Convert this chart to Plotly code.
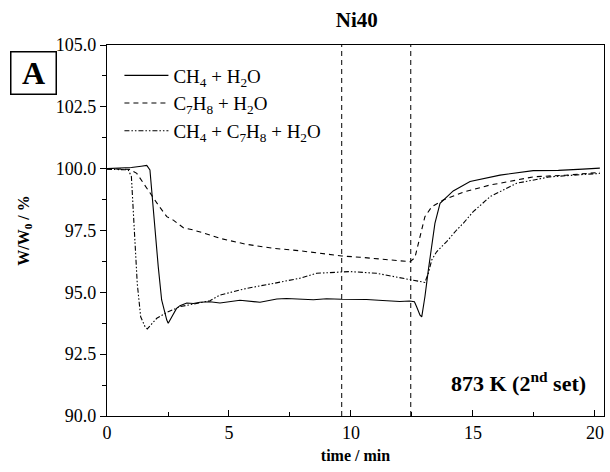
import plotly.graph_objects as go

# ---- data ----
t_ch4 = [0, 0.5, 1.0, 1.4, 1.63, 1.76, 1.83, 1.97, 2.1, 2.24, 2.35, 2.45, 2.51, 2.6, 2.72,
         2.85, 2.99, 3.27, 3.54, 3.81, 4.22, 4.63, 5.45, 6.27, 6.96, 7.36, 8.46, 9.0, 9.62,
         10.64, 11.3, 12.0, 12.4, 12.6, 12.69, 12.83, 12.9, 13.03, 13.17, 13.31, 13.44,
         13.65, 13.92, 14.19, 14.88, 15.7, 16.11, 17.47, 18.5, 19.5, 20.2]
w_ch4 = [100.0, 100.02, 100.05, 100.1, 100.13, 99.95, 99.14, 97.39, 96.04, 94.69, 94.2,
         93.88, 93.75, 93.9, 94.15, 94.35, 94.46, 94.57, 94.55, 94.6, 94.62, 94.57, 94.68,
         94.6, 94.73, 94.75, 94.7, 94.74, 94.72, 94.71, 94.67, 94.63, 94.65, 94.62, 94.42,
         94.08, 94.01, 94.82, 95.9, 96.98, 97.79, 98.6, 98.87, 99.1, 99.48, 99.65, 99.74,
         99.92, 99.93, 99.98, 100.02]

t_c7 = [0, 0.5, 0.94, 1.22, 1.49, 1.77, 2.1, 2.45, 2.72, 3.13, 3.54, 4.22, 4.63, 5.72,
        6.82, 7.91, 9.0, 9.62, 10.37, 11.19, 12.0, 12.42, 12.62, 12.83, 13.03, 13.31,
        13.78, 14.6, 15.7, 16.11, 17.47, 18.84, 20.2]
w_c7 = [100.0, 99.98, 99.97, 99.81, 99.41, 99.0, 98.53, 98.06, 97.92, 97.61, 97.52,
        97.32, 97.18, 96.94, 96.78, 96.68, 96.54, 96.47, 96.42, 96.35, 96.28, 96.24,
        96.4, 97.25, 98.06, 98.46, 98.73, 99.05, 99.34, 99.41, 99.67, 99.74, 99.85]

t_mix = [0, 0.5, 0.87, 1.0, 1.08, 1.16, 1.24, 1.38, 1.56, 1.65, 2.04, 2.45, 2.99, 3.67,
         4.22, 4.63, 5.72, 6.82, 7.91, 8.59, 9.62, 9.96, 11.05, 12.39, 13.03, 13.17,
         13.31, 13.51, 13.92, 14.33, 14.6, 15.01, 15.7, 16.79, 18.16, 20.2]
w_mix = [99.98, 99.95, 99.95, 99.68, 98.06, 96.71, 95.36, 94.01, 93.61, 93.52, 93.95,
         94.19, 94.42, 94.55, 94.66, 94.89, 95.16, 95.36, 95.57, 95.77, 95.81, 95.84,
         95.77, 95.54, 95.4, 95.77, 96.31, 96.64, 97.05, 97.52, 97.79, 98.26, 98.87,
         99.41, 99.67, 99.81]

vlines_t = [9.62, 12.45]

names = ["CH<sub>4</sub> + H<sub>2</sub>O",
         "C<sub>7</sub>H<sub>8</sub> + H<sub>2</sub>O",
         "CH<sub>4</sub> + C<sub>7</sub>H<sub>8</sub> + H<sub>2</sub>O"]

FONT = "Liberation Serif"

fig = go.Figure()
fig.add_trace(go.Scatter(x=t_ch4, y=w_ch4, mode="lines", name=names[0],
                         line=dict(color="black", width=1.1)))
fig.add_trace(go.Scatter(x=t_c7, y=w_c7, mode="lines", name=names[1],
                         line=dict(color="black", width=1.1, dash="5px,4px")))
fig.add_trace(go.Scatter(x=t_mix, y=w_mix, mode="lines", name=names[2],
                         line=dict(color="black", width=1.1, dash="5px,2px,1.5px,2px,1.5px,2px")))

for xv in vlines_t:
    fig.add_vline(x=xv, line=dict(color="black", width=1, dash="5px,4px"))

fig.update_layout(
    width=610, height=472,
    margin=dict(l=107, r=6, t=45, b=56),
    paper_bgcolor="white", plot_bgcolor="white",
    font=dict(family=FONT, size=17, color="black"),
    title=dict(text="<b>Ni40</b>", x=0.585, xanchor="center",
               y=0.975, yanchor="top", font=dict(size=21, family=FONT)),
    showlegend=True,
    legend=dict(x=0.025, y=0.969, xanchor="left", yanchor="top",
                bgcolor="rgba(0,0,0,0)", font=dict(size=19, family=FONT),
                itemwidth=44, tracegroupgap=0),
    xaxis=dict(range=[0, 20.37], tickvals=[0, 5, 10, 15, 20], ticks="inside",
               ticklen=6, tickwidth=1, tickcolor="black",
               minor=dict(dtick=2.5, tick0=0, ticks="inside", ticklen=4, tickcolor="black"),
               showline=True, linecolor="black", linewidth=1.3, mirror=True,
               showgrid=False, zeroline=False,
               title=dict(text="<b>time / min</b>", font=dict(size=16), standoff=8),
               tickfont=dict(size=18)),
    yaxis=dict(range=[90, 105], tickvals=[90, 92.5, 95, 97.5, 100, 102.5, 105],
               tickformat=".1f", ticks="outside", ticklen=6, tickwidth=1, tickcolor="black",
               minor=dict(dtick=1.25, tick0=90, ticks="outside", ticklen=4, tickcolor="black"),
               showline=True, linecolor="black", linewidth=1.3, mirror=True,
               showgrid=False, zeroline=False,
               title=dict(text="<b>W/W<sub>0</sub> / %</b>", font=dict(size=16), standoff=22),
               tickfont=dict(size=18)),
)

fig.add_annotation(text="<b>A</b>", xref="paper", yref="paper",
                   x=(33.5 - 107) / 497, y=(416 - 72.5) / 371, xanchor="center", yanchor="middle",
                   showarrow=False, font=dict(size=32, family=FONT, color="black"),
                   bordercolor="black", borderwidth=1.5, width=44, height=41, borderpad=0)
fig.add_annotation(text="<b>873 K (2<sup>nd</sup> set)</b>", xref="paper", yref="paper",
                   x=(588 - 107) / 497, y=(416 - 382) / 371, xanchor="right", yanchor="middle",
                   showarrow=False, font=dict(size=22, family=FONT, color="black"))

fig.write_html("out.html")
